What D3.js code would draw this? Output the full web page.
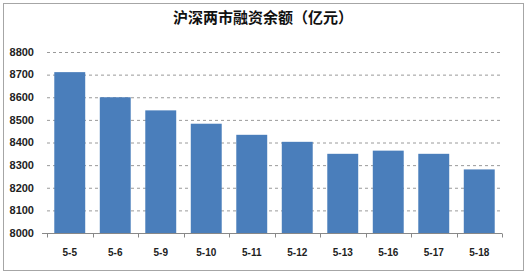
<!DOCTYPE html>
<html>
<head>
<meta charset="utf-8">
<script src="https://cdn.jsdelivr.net/npm/d3@7"></script>
<style>
  body { margin: 0; background: #fff; }
  text { font-family: Arial, "Liberation Sans", "Noto Sans CJK SC", sans-serif; }
</style>
</head>
<body>
<div id="chart"></div>
<script>
const title = '沪深两市融资余额（亿元）'
const categories = ['5-5', '5-6', '5-9', '5-10', '5-11', '5-12', '5-13', '5-16', '5-17', '5-18']
const values = [8711, 8600, 8542, 8483, 8434, 8403, 8350, 8364, 8350, 8281]
const yTicks = [8000, 8100, 8200, 8300, 8400, 8500, 8600, 8700, 8800]

const W = 529
const H = 275
const margin = { top: 52, left: 47, right: 27, bottom: 42 }
const width = W - margin.left - margin.right
const height = 233 - margin.top

const root = d3
  .select('#chart')
  .append('svg')
  .attr('width', W)
  .attr('height', H)

// outer frame
root
  .append('rect')
  .attr('x', 3.5)
  .attr('y', 3.5)
  .attr('width', 520)
  .attr('height', 267)
  .attr('fill', '#fff')
  .attr('stroke', '#a6a6a6')

root
  .append('text')
  .attr('x', 263)
  .attr('y', 23)
  .attr('text-anchor', 'middle')
  .style('font-size', '15px')
  .style('font-weight', 'bold')
  .style('fill', '#111')
  .style('font-family', '"Noto Sans CJK SC", sans-serif')
  .text(title)

const svg = root
  .append('g')
  .attr('transform', 'translate(' + margin.left + ',' + margin.top + ')')

const x = d3.scaleBand().domain(categories).range([0, width]).paddingInner(0.32).paddingOuter(0.16)
const y = d3.scaleLinear().domain([8000, 8800]).range([height, 0])

// gridlines
svg
  .selectAll('.grid')
  .data(yTicks.filter(d => d > 8000))
  .enter()
  .append('line')
  .attr('class', 'grid')
  .attr('x1', 0)
  .attr('x2', width)
  .attr('y1', d => y(d) + 0.5)
  .attr('y2', d => y(d) + 0.5)
  .attr('stroke', '#9a9a9a')
  .attr('stroke-dasharray', '3,3')

// y labels
svg
  .selectAll('.ylab')
  .data(yTicks)
  .enter()
  .append('text')
  .attr('class', 'ylab')
  .attr('x', -13)
  .attr('y', d => y(d))
  .attr('dy', '0.35em')
  .attr('text-anchor', 'end')
  .style('font-size', '11px')
  .style('font-weight', 'bold')
  .style('fill', '#222')
  .text(d => d)

svg
  .selectAll('.bar')
  .data(values)
  .enter()
  .append('rect')
  .attr('class', 'bar')
  .attr('x', (d, i) => x(categories[i]))
  .attr('width', x.bandwidth())
  .attr('y', d => y(d))
  .attr('height', d => y(8000) - y(d))
  .attr('fill', '#4a7ebb')

// x axis
const step = x.step()
const xAxis = svg.append('g').attr('transform', 'translate(0,' + (height + 0.5) + ')')
xAxis
  .append('line')
  .attr('x1', -5)
  .attr('x2', width)
  .attr('stroke', '#888')
xAxis
  .selectAll('.tick')
  .data(d3.range(categories.length + 1))
  .enter()
  .append('line')
  .attr('x1', d => Math.round(d * step) + 0.5)
  .attr('x2', d => Math.round(d * step) + 0.5)
  .attr('y1', 0)
  .attr('y2', 4)
  .attr('stroke', '#888')

xAxis
  .selectAll('.xlab')
  .data(categories)
  .enter()
  .append('text')
  .attr('x', d => x(d) + x.bandwidth() / 2)
  .attr('y', 22)
  .attr('text-anchor', 'middle')
  .style('font-size', '10px')
  .style('font-weight', 'bold')
  .style('fill', '#222')
  .text(d => d)
</script>
</body>
</html>
